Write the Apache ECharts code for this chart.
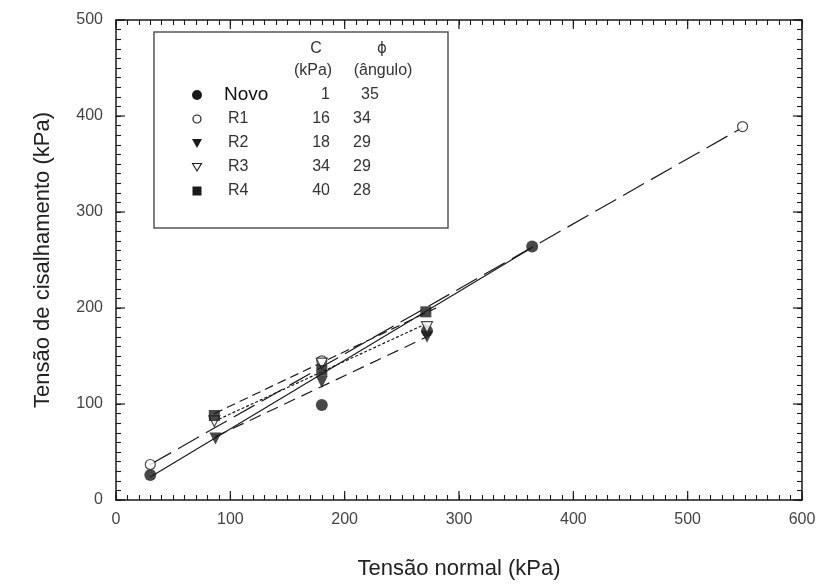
<!DOCTYPE html>
<html>
<head>
<meta charset="utf-8">
<script src="https://cdn.jsdelivr.net/npm/echarts@6/dist/echarts.min.js"></script>
<style>
  html, body { margin: 0; padding: 0; background: #fff; }
  #main { width: 820px; height: 588px; }
</style>
</head>
<body>
<div id="main"></div>
<script>
//////////// dados ////////////
var names = ['Novo', 'R1', 'R2', 'R3', 'R4'];
var cValues = ['1', '16', '18', '34', '40'];
var phiValues = ['35', '34', '29', '29', '28'];

// pontos ensaiados [tensao normal, tensao de cisalhamento]
var novoPts = [[30, 26], [180, 99], [272, 176], [364, 264]];
var r1Pts = [[30, 37], [180, 145], [548, 389]];
var r2Pts = [[87, 64], [180, 123], [272, 170]];
var r3Pts = [[86, 82], [180, 142], [272, 180]];
var r4Pts = [[86, 88], [180, 135], [271, 196]];

// retas de ajuste (extremos)
var novoFit = [[30, 24], [364, 263]];
var r1Fit = [[30, 37], [548, 388]];
var r2Fit = [[87, 66], [272, 170]];
var r3Fit = [[86, 82], [272, 184]];
var r4Fit = [[86, 90], [280, 200]];

var xTicks = [0, 100, 200, 300, 400, 500, 600];
var yTicks = [0, 100, 200, 300, 400, 500];
var majorStep = 100;
var minorStep = 10;

//////////// grafico ////////////
var dom = document.getElementById('main');
var myChart = echarts.init(dom, null, { renderer: 'canvas' });

var ink = '#1a1a1a';
var fontFam = '"Liberation Sans", Arial, sans-serif';
var xMin = xTicks[0], xMax = xTicks[xTicks.length - 1];
var yMin = yTicks[0], yMax = yTicks[yTicks.length - 1];

function majorOnly(v) { return v % majorStep === 0 ? String(v) : ''; }

// eixo do quadro: tracos a cada 10, rotulos so nas centenas
function frameAxis(ticks, extra) {
    var a = {
        type: 'value',
        min: ticks[0],
        max: ticks[ticks.length - 1],
        interval: minorStep,
        axisLine: { show: true, onZero: false, lineStyle: { color: ink, width: 1.5 } },
        axisTick: { show: true, inside: true, length: 5, lineStyle: { color: ink, width: 1.1 } },
        splitLine: { show: false },
        axisLabel: { show: false }
    };
    for (var k in extra) a[k] = extra[k];
    return a;
}

// tracos principais mais longos, desenhados pela propria escala do grafico
var xMajor = xTicks.map(function (v) { return [v, yMin]; });
var yMajor = yTicks.map(function (w) { return [xMin, w]; });

function majorTicks(data, horizontal) {
    return {
        type: 'custom',
        data: data,
        silent: true,
        clip: false,
        z: 6,
        renderItem: function (params, api) {
            var a, b;
            if (horizontal) {
                a = api.coord([api.value(0), yMin]);
                b = api.coord([api.value(0), yMax]);
                return { type: 'group', children: [
                    { type: 'rect', shape: { x: a[0] - 0.6, y: a[1] - 9, width: 1.2, height: 9 }, style: { fill: ink } },
                    { type: 'rect', shape: { x: b[0] - 0.6, y: b[1], width: 1.2, height: 9 }, style: { fill: ink } }
                ] };
            }
            a = api.coord([xMin, api.value(1)]);
            b = api.coord([xMax, api.value(1)]);
            return { type: 'group', children: [
                { type: 'rect', shape: { x: a[0], y: a[1] - 0.6, width: 9, height: 1.2 }, style: { fill: ink } },
                { type: 'rect', shape: { x: b[0] - 9, y: b[1] - 0.6, width: 9, height: 1.2 }, style: { fill: ink } }
            ] };
        }
    };
}

function scatter(name, data, symbol, filled, rotate, size) {
    return {
        name: name,
        type: 'scatter',
        data: data,
        symbol: symbol,
        symbolSize: size,
        symbolRotate: rotate,
        z: 5,
        itemStyle: {
            color: filled ? ink : '#fff',
            borderColor: ink,
            borderWidth: filled ? 0 : 1.2
        }
    };
}

function fitLine(data, dash) {
    return {
        type: 'line',
        data: data,
        symbol: 'none',
        silent: true,
        z: 3,
        lineStyle: { color: ink, width: 1.2, type: dash }
    };
}

// legenda em tabela
var lx = 154, ly = 32;
var rowY = [95, 119, 143, 167, 191];
var legendGraphics = [
    { type: 'rect', shape: { x: lx, y: ly, width: 294, height: 196 },
      style: { fill: '#fff', stroke: '#555', lineWidth: 1.5 }, z: 10 },
    { type: 'text', x: 316, y: 49, style: { text: 'C', font: '16px ' + fontFam, fill: '#333', align: 'center', verticalAlign: 'middle' }, z: 11 },
    { type: 'text', x: 382, y: 49, style: { text: 'ϕ', font: '15px "DejaVu Sans", sans-serif', fill: '#333', align: 'center', verticalAlign: 'middle' }, z: 11 },
    { type: 'text', x: 313, y: 71, style: { text: '(kPa)', font: '16px ' + fontFam, fill: '#333', align: 'center', verticalAlign: 'middle' }, z: 11 },
    { type: 'text', x: 383, y: 71, style: { text: '(ângulo)', font: '16px ' + fontFam, fill: '#333', align: 'center', verticalAlign: 'middle' }, z: 11 }
];
for (var i = 0; i < names.length; i++) {
    var big = i === 0;
    legendGraphics.push({ type: 'text', x: big ? 224 : 228, y: rowY[i],
        style: { text: names[i], font: (big ? '19px ' : '16px ') + fontFam, fill: big ? '#111' : '#333', verticalAlign: 'middle' }, z: 11 });
    legendGraphics.push({ type: 'text', x: 330, y: rowY[i],
        style: { text: cValues[i], font: '16px ' + fontFam, fill: '#333', align: 'right', verticalAlign: 'middle' }, z: 11 });
    legendGraphics.push({ type: 'text', x: big ? 361 : 353, y: rowY[i],
        style: { text: phiValues[i], font: '16px ' + fontFam, fill: '#333', verticalAlign: 'middle' }, z: 11 });
}
var mx = 197;
legendGraphics.push(
    { type: 'circle', shape: { cx: mx, cy: rowY[0], r: 5 }, style: { fill: ink }, z: 11 },
    { type: 'circle', shape: { cx: mx, cy: rowY[1], r: 4 }, style: { fill: '#fff', stroke: ink, lineWidth: 1.2 }, z: 11 },
    { type: 'polygon', shape: { points: [[mx - 5, rowY[2] - 4], [mx + 5, rowY[2] - 4], [mx, rowY[2] + 5]] }, style: { fill: ink }, z: 11 },
    { type: 'polygon', shape: { points: [[mx - 4.5, rowY[3] - 3.5], [mx + 4.5, rowY[3] - 3.5], [mx, rowY[3] + 4]] }, style: { fill: '#fff', stroke: ink, lineWidth: 1.1 }, z: 11 },
    { type: 'rect', shape: { x: mx - 4.5, y: rowY[4] - 4.5, width: 9, height: 9 }, style: { fill: ink }, z: 11 }
);

var option = {
    backgroundColor: '#FFFFFF',
    animation: false,
    grid: { left: 116, right: 18, top: 20, bottom: 88 },
    xAxis: [
        frameAxis(xTicks, {
            position: 'bottom',
            axisLabel: { show: true, margin: 12, fontSize: 16, color: '#444', fontFamily: fontFam, formatter: majorOnly },
            name: 'Tensão normal (kPa)',
            nameLocation: 'middle',
            nameGap: 58,
            nameTextStyle: { fontSize: 22, color: '#222', fontFamily: fontFam }
        }),
        frameAxis(xTicks, { position: 'top' })
    ],
    yAxis: [
        frameAxis(yTicks, {
            position: 'left',
            axisLabel: { show: true, margin: 13, fontSize: 16, color: '#444', fontFamily: fontFam, formatter: majorOnly },
            name: 'Tensão de cisalhamento (kPa)',
            nameLocation: 'middle',
            nameGap: 62,
            nameTextStyle: { fontSize: 22, color: '#222', fontFamily: fontFam }
        }),
        frameAxis(yTicks, { position: 'right' })
    ],
    graphic: legendGraphics,
    series: [
        majorTicks(xMajor, true),
        majorTicks(yMajor, false),
        fitLine(novoFit, 'solid'),
        fitLine(r1Fit, [24, 8]),
        fitLine(r2Fit, [12, 7]),
        fitLine(r3Fit, [3, 2]),
        fitLine(r4Fit, [9, 5]),
        scatter('Novo', novoPts, 'circle', true, 0, 12),
        scatter('R1', r1Pts, 'circle', false, 0, 10),
        scatter('R2', r2Pts, 'triangle', true, 180, 12),
        scatter('R3', r3Pts, 'triangle', false, 180, 11),
        scatter('R4', r4Pts, 'rect', true, 0, 11)
    ]
};
myChart.setOption(option);
</script>
</body>
</html>
